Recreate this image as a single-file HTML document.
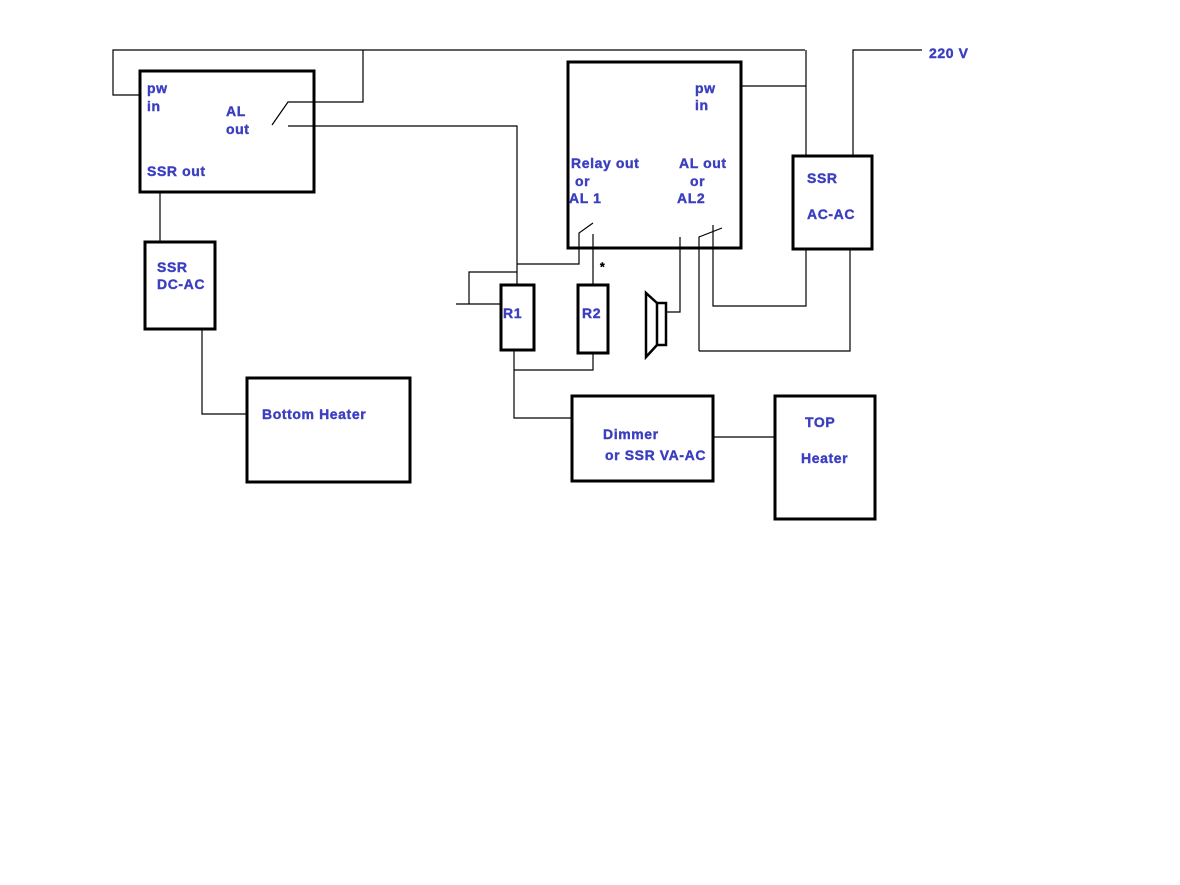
<!DOCTYPE html>
<html><head><style>
body{margin:0;background:#fff;}
svg{display:block}
text{font-family:"Liberation Sans",Arial,sans-serif;font-weight:bold;font-size:14px;letter-spacing:0.6px;fill:#3b3fbf;stroke:#3b3fbf;stroke-width:0.4}
</style></head><body>
<svg width="1180" height="885" viewBox="0 0 1180 885" xmlns="http://www.w3.org/2000/svg">
<g fill="none" stroke="#000" stroke-width="1.2">
<polyline points="140,95 113,95 113,50 805,50"/>
<polyline points="363,50 363,102 288,102 272,125"/>
<polyline points="288,126 517,126 517,285"/>
<polyline points="741,86 806,86"/>
<line x1="806" y1="50" x2="806" y2="155"/>
<polyline points="853,155 853,50 922,50"/>
<polyline points="517,264 579,264 579,233 593,223"/>
<line x1="593" y1="234" x2="593" y2="285"/>
<polyline points="517,272 469,272 469,304"/>
<line x1="456" y1="304" x2="500" y2="304"/>
<polyline points="514,350 514,418 572,418"/>
<polyline points="514,370 593,370 593,353"/>
<polyline points="680,237 680,312 666,312"/>
<polyline points="699,351 699,237 722,228"/>
<polyline points="713,225 713,306 806,306 806,249"/>
<polyline points="699,351 850,351 850,249"/>
<line x1="160" y1="192" x2="160" y2="241"/>
<polyline points="202,329 202,414 247,414"/>
<line x1="713" y1="437" x2="775" y2="437"/>
</g>
<g fill="none" stroke="#000" stroke-width="3">
<rect x="140" y="71" width="174" height="121"/>
<rect x="568" y="62" width="173" height="186"/>
<rect x="793" y="156" width="79" height="93"/>
<rect x="145" y="242" width="70" height="87"/>
<rect x="247" y="378" width="163" height="104"/>
<rect x="501" y="285" width="33" height="65"/>
<rect x="578" y="285" width="30" height="68"/>
<rect x="572" y="396" width="141" height="85"/>
<rect x="775" y="396" width="100" height="123"/>
<rect x="657" y="303" width="9" height="42" stroke-width="2.5"/>
<polyline points="657,303 646,293 646,357 657,345" stroke-width="2.5"/>
</g>
<text x="147" y="93">pw</text>
<text x="147" y="111">in</text>
<text x="226" y="116">AL</text>
<text x="226" y="134">out</text>
<text x="147" y="176">SSR out</text>
<text x="695" y="93">pw</text>
<text x="695" y="110">in</text>
<text x="571" y="168">Relay out</text>
<text x="575" y="186">or</text>
<text x="569" y="203">AL 1</text>
<text x="679" y="168">AL out</text>
<text x="690" y="186">or</text>
<text x="677" y="203">AL2</text>
<text x="807" y="183">SSR</text>
<text x="807" y="219">AC-AC</text>
<text x="929" y="58">220 V</text>
<text x="157" y="272">SSR</text>
<text x="157" y="289">DC-AC</text>
<text x="262" y="419">Bottom Heater</text>
<text x="503" y="318">R1</text>
<text x="582" y="318">R2</text>
<text x="603" y="439">Dimmer</text>
<text x="605" y="460">or SSR VA-AC</text>
<text x="805" y="427">TOP</text>
<text x="801" y="463">Heater</text>
<text x="600" y="271" style="fill:#000;stroke:#000;font-size:12px">*</text>
</svg>
</body></html>
